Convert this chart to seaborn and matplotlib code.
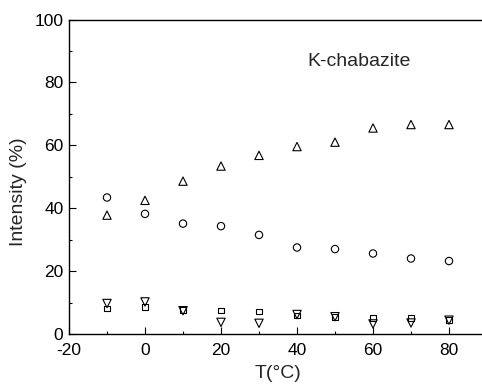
import matplotlib
matplotlib.use("Agg")
import matplotlib.pyplot as plt
import seaborn as sns
import pandas as pd
from matplotlib.ticker import MultipleLocator

sns.set_style("ticks")
plt.rcParams['font.family'] = ['Liberation Sans', 'DejaVu Sans']
plt.rcParams['axes.unicode_minus'] = False

temps = [-10, 0, 10, 20, 30, 40, 50, 60, 70, 80]
up_tri = [37.8, 42.5, 48.6, 53.4, 56.8, 59.6, 61.0, 65.5, 66.6, 66.6]
circles = [43.4, 38.2, 35.1, 34.3, 31.5, 27.5, 27.0, 25.6, 24.0, 23.2]
squares = [8.1, 8.5, 7.6, 7.5, 7.2, 5.9, 5.4, 5.0, 5.0, 4.4]
down_tri = [9.7, 10.2, 7.4, 3.7, 3.4, 6.2, 5.5, 3.2, 3.5, 4.4]

series = [
    (up_tri, "^", 36),
    (circles, "o", 28),
    (squares, "s", 16),
    (down_tri, "v", 36),
]

fig = plt.figure(figsize=(4.82, 3.85), dpi=100)
ax = fig.add_axes([69 / 482, 51 / 385, (110 * 3.8) / 482, 314.5 / 385])

for vals, mk, s in series:
    df = pd.DataFrame({"T": temps, "I": vals})
    sns.scatterplot(data=df, x="T", y="I", marker=mk, s=s, color="black",
                    facecolor="none", edgecolor="black", linewidth=0.8, ax=ax,
                    clip_on=False, zorder=3)

ax.set_xlim(-20, 90)
ax.set_ylim(0, 100)
ax.xaxis.set_major_locator(MultipleLocator(20))
ax.xaxis.set_minor_locator(MultipleLocator(10))
ax.yaxis.set_major_locator(MultipleLocator(20))
ax.yaxis.set_minor_locator(MultipleLocator(10))
ax.tick_params(which="both", direction="in", top=False, right=False,
               labelsize=12.5, width=0.8, colors="black")
ax.tick_params(which="major", length=5)
ax.tick_params(which="minor", length=2.5)
ax.tick_params(axis="x", which="major", pad=6.5)
ax.tick_params(axis="y", which="major", pad=4)
for sp in ax.spines.values():
    sp.set_linewidth(1.0)
    sp.set_color("black")

ax.set_xlabel("T(°C)", fontsize=14)
ax.set_ylabel("Intensity (%)", fontsize=14)
ax.xaxis.set_label_coords(0.5, (334 - 374) / 314.5)
ax.xaxis.label.set_verticalalignment("center")
ax.yaxis.set_label_coords((18.5 - 69) / 418, 0.453)
ax.yaxis.label.set_verticalalignment("center")
ax.text(56.3, 86.5, "K-chabazite", fontsize=14, ha="center", va="center")

fig.savefig("out.png", dpi=100)
